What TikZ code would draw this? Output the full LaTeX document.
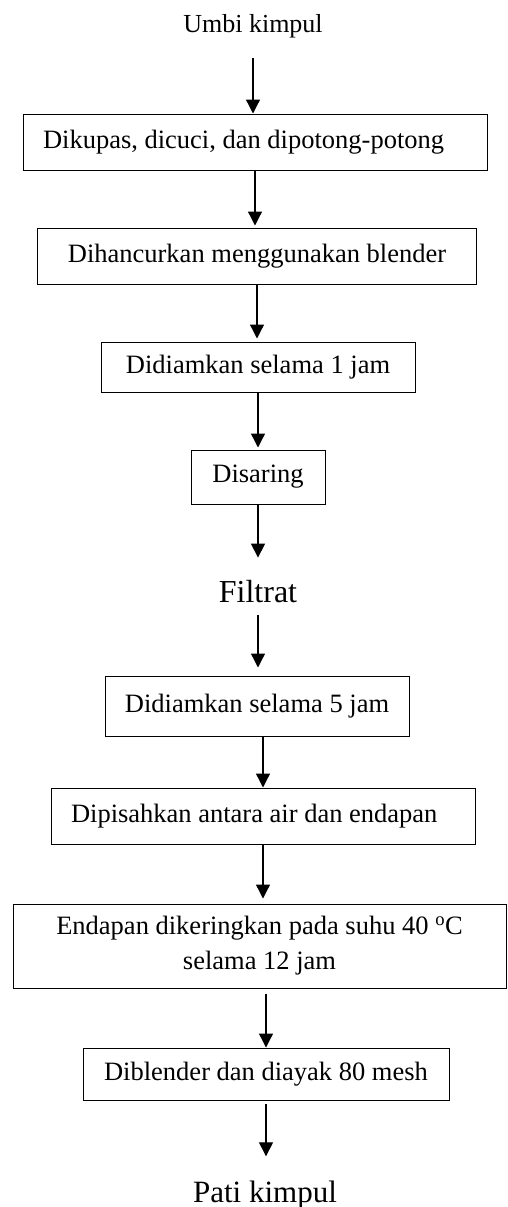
\documentclass[tikz,border=0pt]{standalone}
\usepackage{fontspec}
\setmainfont{Liberation Serif}
\usetikzlibrary{arrows.meta}
\begin{document}
\begin{tikzpicture}[x=1pt,y=-1pt,
  box/.style={draw, line width=1pt, inner sep=0pt, align=center,
    font=\fontsize{26.5}{35}\selectfont},
  lbl/.style={inner sep=0pt, anchor=base},
  arr/.style={-{Triangle[length=14pt,width=14pt]}, line width=1.3pt}]
\useasboundingbox (0,0) rectangle (507,1207);

\node[lbl, font=\fontsize{26}{30}\selectfont] (umbi) at (253,33) {Umbi kimpul};
\node[box, inner xsep=20pt, minimum height=56pt] (b1) at (255,142) {\makebox[424pt][l]{Dikupas, dicuci, dan dipotong-potong}};
\node[box, minimum width=439pt, minimum height=56pt] (b2) at (257,256) {Dihancurkan menggunakan blender};
\node[box, minimum width=314pt, minimum height=50pt] (b3) at (258,367) {Didiamkan selama 1 jam};
\node[box, minimum width=134pt, minimum height=54pt] (b4) at (258,477) {Disaring};
\node[lbl, font=\fontsize{32}{36}\selectfont] (filt) at (258,602) {Filtrat};
\node[box, minimum width=304pt, minimum height=60pt] (b5) at (257,706) {Didiamkan selama 5 jam};
\node[box, inner xsep=20pt, minimum height=56pt] (b6) at (263,816) {\makebox[384pt][l]{Dipisahkan antara air dan endapan}};
\node[box, minimum width=493pt, minimum height=84pt] (b7) at (259.5,946) {Endapan dikeringkan pada suhu 40 \textsuperscript{o}C\\selama 12 jam};
\node[box, minimum width=366pt, minimum height=52pt] (b8) at (266,1074) {Diblender dan diayak 80 mesh};
\node[lbl, font=\fontsize{31}{36}\selectfont] (pati) at (265,1202) {Pati kimpul};

\draw[arr] ([yshift=-25pt]umbi.base) -- (umbi.base |- b1.north);
\draw[arr, shorten >=2pt] (b1.south) -- (b1.south |- b2.north);
\draw[arr, shorten >=3pt] (b2.south) -- (b2.south |- b3.north);
\draw[arr, shorten >=2pt] (b3.south) -- (b3.south |- b4.north);
\draw[arr, shorten >=22pt] (b4.south) -- (b4.south |- filt.north);
\draw[arr, shorten <=12pt, shorten >=8pt] (filt.south) -- (filt.south |- b5.north);
\draw[arr] (b6.north |- b5.south) -- (b6.north);
\draw[arr, shorten >=5pt] (b6.south) -- (b6.south |- b7.north);
\draw[arr, shorten <=5pt] (b8.north |- b7.south) -- (b8.north);
\draw[arr, shorten <=3pt, shorten >=24pt] (b8.south) -- (b8.south |- pati.north);
\end{tikzpicture}
\end{document}
